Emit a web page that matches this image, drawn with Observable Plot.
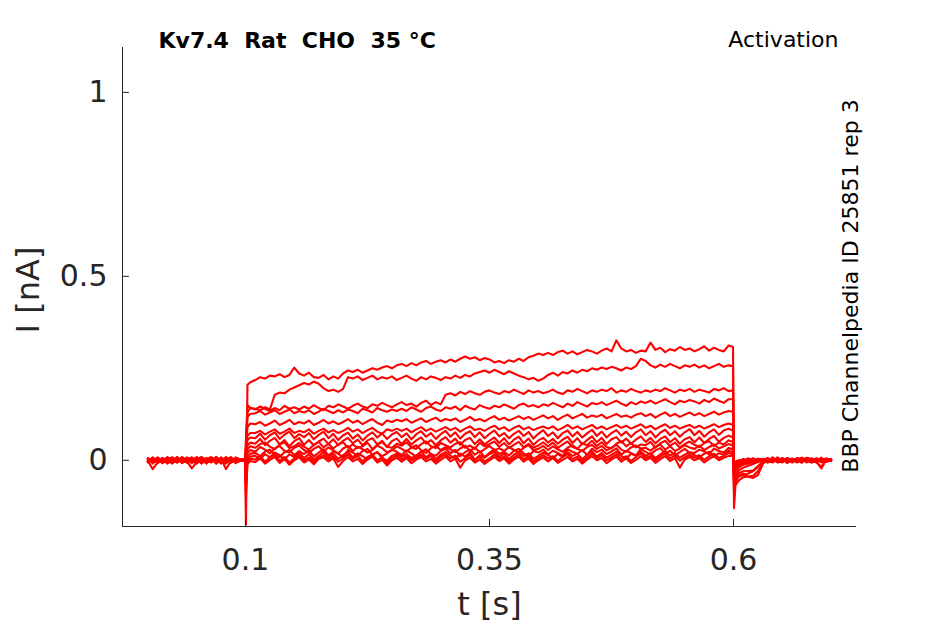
<!DOCTYPE html>
<html>
<head>
<meta charset="utf-8">
<script src="https://cdn.jsdelivr.net/npm/d3@7"></script>
<script src="https://cdn.jsdelivr.net/npm/@observablehq/plot@0.6"></script>
<style>
  body { margin: 0; background: #fff; }
  svg text { white-space: pre; }
</style>
</head>
<body>
<div id="chart"></div>
<script>
// sample times in ms
const timeMs = [
  0,5,10,15,20,25,30,35,40,45,50,55,60,65,70,75,80,85,90,95,
  99.5,100.5,102,105,
  110,115,120,125,130,135,140,145,150,155,
  160,165,170,175,180,185,190,195,200,205,
  210,215,220,225,230,235,240,245,250,255,
  260,265,270,275,280,285,290,295,300,305,
  310,315,320,325,330,335,340,345,350,355,
  360,365,370,375,380,385,390,395,400,405,
  410,415,420,425,430,435,440,445,450,455,
  460,465,470,475,480,485,490,495,500,505,
  510,515,520,525,530,535,540,545,550,555,
  560,565,570,575,580,585,590,595,
  599.5,600.5,602,605,
  610,615,620,625,630,635,640,645,650,655,660,665,670,675,680,685,690,695,700
];

// current traces in pA (one per voltage step)
const traceA = [6,-9,3,-5,9,-3,5,-8,2,7,-6,8,-2,5,-9,3,-3,9,-5,2, 2,-175,205,212,
  218,226,222,230,228,234,226,232,252,236,
  230,238,226,224,232,220,228,222,236,244,
  240,246,238,244,250,246,252,256,250,258,
  262,256,264,258,266,270,262,268,272,266,
  274,268,276,282,276,280,272,278,274,266,
  270,264,272,268,276,270,280,284,290,286,
  292,286,294,298,290,296,288,294,300,296,
  290,298,304,296,326,304,296,300,292,298,
  296,320,300,306,294,302,298,308,300,304,
  296,302,310,298,306,300,296,312,
  308,-130,-68,-56, -46,-44,-42,-30,-8,5,-6,8,-3,6,-5,3,-7,7,-2,5,-6,4,2];
const traceB = [-5,8,-2,6,-9,3,-3,9,-6,2,5,-8,3,-3,8,-6,2,6,-3,-2, -1,60,150,142,
  140,136,144,138,178,184,182,192,198,204,
  210,206,214,208,196,188,192,186,194,226,
  222,228,218,224,230,220,226,222,228,218,
  224,230,222,216,226,220,228,224,218,226,
  222,230,224,232,228,236,240,244,238,246,
  240,234,242,236,230,226,220,224,216,222,
  232,238,230,240,236,244,238,246,242,250,
  246,252,248,254,250,244,252,248,256,276,
  270,258,252,260,254,262,256,250,258,254,
  260,252,258,250,256,262,254,258,
  256,-60,-40,-28, -20,-15,-10,-5,2,-6,8,-3,5,-7,3,-2,6,-5,2,-3,7,-4,3];
const traceC = [3,-6,8,-3,5,-9,6,-2,-5,8,-3,5,-8,2,6,-5,9,-3,3,2, 1,40,130,142,
  138,146,140,134,142,136,148,140,144,138,
  146,140,150,142,136,148,144,152,146,140,
  148,154,146,142,152,148,156,150,144,152,
  158,150,154,146,156,162,150,158,152,178,
  182,176,186,180,188,182,178,186,190,184,
  180,188,184,192,186,180,190,184,188,182,
  186,192,184,180,190,186,194,188,182,190,
  186,192,188,196,184,190,186,194,188,184,
  190,186,192,188,196,190,184,192,188,194,
  186,192,188,184,194,190,196,188,
  190,-30,-22,-14, -8,-6,-4,-2,3,-5,6,-2,4,-7,2,-1,5,-6,3,-2,5,-3,1];
const traceD = [-3,5,-8,2,6,-5,9,-3,3,-6,8,-2,-5,6,-9,3,5,-6,2,0, 0,30,118,126,
  128,134,124,130,136,126,132,138,128,134,
  130,136,126,132,140,134,128,136,130,138,
  134,128,140,136,130,142,136,132,138,134,
  140,134,144,138,132,142,146,138,134,144,
  140,146,136,148,142,138,150,144,140,148,
  144,152,146,140,150,154,146,150,144,152,
  148,156,150,144,154,148,158,152,146,156,
  152,158,150,156,162,154,148,158,152,160,
  156,162,154,160,166,158,152,162,158,164,
  160,154,164,158,168,162,156,166,
  166,-25,-15,-8, -4,2,-5,3,-3,5,-2,6,-1,3,-6,2,-4,5,-6,3,-2,4,1];
const traceE = [5,-3,2,-8,3,8,-5,3,-2,-3,6,-9,5,2,-6,8,-3,3,-8,3, 2,20,90,100,
  98,104,94,100,108,96,102,110,98,104,
  100,108,96,102,110,100,106,98,104,112,
  102,108,98,106,112,102,96,108,104,110,
  106,112,102,108,114,104,110,116,106,112,
  108,114,104,110,118,108,112,106,114,120,
  110,116,108,114,120,112,118,110,116,122,
  114,120,110,118,124,114,120,126,116,122,
  118,124,114,120,126,118,122,116,124,128,
  120,126,116,124,130,120,126,118,124,130,
  122,128,120,126,132,124,130,134,
  132,-15,-10,-5, 2,-5,6,-3,4,-2,5,-6,1,-4,5,-2,7,-3,3,-5,2,-1,3];
const traceF = [-6,3,-2,5,-3,6,2,-5,5,-8,3,9,-6,2,-3,5,-9,6,-2,-2, -1,10,66,74,
  74,80,70,78,84,72,78,86,74,80,
  76,84,72,80,86,76,82,74,80,88,
  78,84,74,82,88,78,72,84,80,86,
  80,86,76,84,90,80,86,78,84,90,
  82,88,78,86,92,82,86,80,88,94,
  84,90,80,88,94,84,90,82,88,92,
  86,92,82,88,96,86,92,84,90,96,
  86,92,84,90,96,88,94,86,92,98,
  88,94,84,92,98,88,94,86,92,96,
  88,94,86,92,98,90,96,100,
  96,-10,-6,-2, 3,-4,2,-5,1,6,-3,2,-6,4,0,-3,5,4,-2,-6,-18,2,1];
const traceG = [2,-5,6,-3,0,5,-6,8,-2,3,-8,5,2,-5,9,-3,3,-6,5,2, 1,8,55,62,
  60,72,56,68,76,58,70,78,60,71,
  63,74,57,69,78,60,72,55,68,75,
  59,70,54,67,76,62,73,58,70,77,
  63,73,57,71,79,64,74,58,71,80,
  64,76,59,72,79,63,76,60,72,81,
  65,74,60,72,80,66,77,59,72,82,
  66,76,60,74,81,65,77,62,73,83,
  66,78,62,74,82,67,78,63,76,84,
  68,79,62,75,83,68,79,64,76,85,
  68,80,64,76,84,69,81,86,
  80,-8,-4,0, -2,5,-4,3,-6,2,-1,6,-4,4,-2,5,1,-5,3,-3,2,5,-2];
const traceH = [-3,6,-5,2,-8,3,5,-2,6,-3,8,-6,3,-2,5,-9,6,2,-5,0, 0,-20,40,48,
  45,58,41,53,61,43,55,38,52,60,
  42,55,40,51,59,44,57,41,53,61,
  46,56,41,54,60,43,53,36,52,59,
  44,58,43,54,62,45,55,41,54,63,
  48,59,42,55,61,44,57,43,53,62,
  47,60,43,56,64,46,59,42,54,61,
  48,58,45,56,64,47,60,43,55,65,
  49,61,44,57,63,48,59,45,56,65,
  50,61,46,58,65,49,60,45,57,63,
  49,62,47,58,66,50,61,67,
  62,-40,-30,-20, -12,-9,-6,-3,2,-5,4,-3,6,-1,3,-6,2,-4,5,1,-3,2,-2];
const traceI = [5,-2,3,-6,2,-3,8,-5,0,5,-9,3,6,-3,2,-5,-8,5,3,2, 1,-10,30,38,
  34,44,48,37,30,43,49,33,38,47,
  37,29,42,50,35,45,32,43,49,34,
  43,33,38,48,30,42,50,37,34,45,
  40,49,35,31,44,51,38,33,47,41,
  35,45,49,34,40,31,48,38,44,51,
  37,47,33,42,50,35,45,34,40,49,
  38,48,34,43,51,36,31,46,41,53,
  39,49,36,32,45,52,38,47,35,43,
  41,50,34,46,53,39,48,35,44,51,
  42,36,47,52,39,48,43,54,
  50,-50,-45,-35, -30,-29,-28,-16,-5,2,-4,5,-3,6,-2,3,-5,4,-6,1,2,-3,1];
const traceJ = [-2,3,-5,6,-3,2,-6,5,3,-2,8,-3,-6,5,2,-8,3,6,-5,0, 0,-30,20,28,
  23,36,29,19,32,39,25,21,34,40,
  28,20,31,38,24,35,27,18,32,39,
  25,37,30,21,28,40,33,22,27,38,
  31,23,35,41,27,20,33,39,28,36,
  30,22,32,40,25,35,21,30,39,27,
  33,25,36,28,22,34,41,27,31,39,
  28,38,30,23,34,41,31,25,36,42,
  31,39,27,34,42,29,23,35,40,32,
  34,26,37,43,29,38,25,32,41,35,
  31,40,28,36,43,32,38,44,
  40,-70,-52,-42, -36,-45,-48,-40,-10,3,-5,2,-3,6,1,-4,3,2,-6,4,-1,2,3];
const traceK = [3,-5,2,-2,5,-6,3,-3,8,0,-5,6,-9,3,-2,5,2,-6,8,2, 1,-45,10,18,
  20,11,24,29,15,9,22,28,14,25,
  17,27,10,21,30,13,24,18,8,28,
  21,12,25,31,15,22,11,19,29,23,
  14,27,19,10,23,30,17,12,25,31,
  19,28,11,22,29,15,25,9,20,30,
  17,23,13,26,31,19,11,25,21,29,
  16,26,20,12,30,23,17,28,14,32,
  22,29,17,24,32,15,26,20,12,31,
  23,16,27,33,18,26,13,22,31,20,
  20,29,24,16,32,25,21,33,
  30,-20,-10,-4, 2,-3,-1,4,3,-5,-4,2,5,2,-2,6,4,-3,-3,5,2,-4,-1];
const traceL = [-5,2,6,-3,3,-2,-5,3,-3,6,-8,5,2,-6,9,-3,-2,5,-5,-2, -1,-60,2,10,
  12,3,17,8,21,14,2,16,9,20,
  6,17,1,12,22,9,18,4,14,23,
  8,19,11,2,16,22,6,-1,12,18,
  9,17,6,13,24,8,18,3,15,22,
  13,4,18,10,21,1,14,7,17,23,
  9,18,3,15,23,11,19,4,12,21,
  14,6,17,9,22,12,18,3,15,25,
  10,20,7,15,23,12,4,18,13,24,
  12,19,6,16,25,13,20,7,15,22,
  14,8,18,23,11,19,15,26,
  22,-25,-12,-6, 0,4,3,-2,-2,5,1,-3,-3,2,2,-5,-1,4,5,-3,-2,3,0];
const traceM = [2,5,-3,3,-5,6,-2,2,-6,3,5,-8,3,9,-3,-6,5,-2,2,0, 0,-80,-5,4,
  2,11,-4,8,15,-1,9,-6,5,13,
  0,8,-5,6,14,3,11,-4,5,16,
  4,12,-3,9,16,0,8,-8,6,13,
  2,11,0,7,15,4,12,-4,9,16,
  5,13,-4,6,15,1,9,-3,5,16,
  4,10,-3,7,16,2,12,-4,6,14,
  5,11,-2,9,17,3,10,-3,7,18,
  6,14,0,8,16,3,11,-2,9,18,
  6,12,0,10,18,5,13,-1,8,15,
  7,14,1,11,18,6,12,20,
  16,-35,-20,-10, -4,-2,1,3,-1,-5,3,2,-2,4,0,-3,2,5,-1,-4,3,1,-2];
const traceN = [-2,-24,-6,5,-2,-8,3,-5,-3,-22,-5,6,-3,2,-6,5,-24,-3,2,0, 0,-100,-10,-2,
  -5,6,-9,1,9,-7,3,-12,0,8,
  -6,2,-11,4,8,-3,5,-18,-2,9,
  -3,4,-10,2,10,-6,1,-14,0,7,
  -4,6,-8,2,9,-3,4,-9,1,10,
  -3,4,-20,0,7,-6,2,-10,0,9,
  -2,5,-9,2,10,-4,5,-10,0,8,
  -3,6,-7,1,9,-3,4,-9,2,11,
  0,6,-8,2,10,-4,5,-7,1,11,
  0,7,-7,3,11,-2,6,-20,2,9,
  0,6,-6,4,11,0,7,12,
  12,-90,-60,-45, -40,-36,-30,-18,-4,3,2,-5,-3,4,1,-2,-2,6,3,-4,-22,2,0];

const traces = [traceA, traceB, traceC, traceD, traceE, traceF, traceG,
                traceH, traceI, traceJ, traceK, traceL, traceM, traceN];

const xTicks = [0.1, 0.35, 0.6];
const yTicks = [0, 0.5, 1];
const xDomain = [-0.026, 0.726];
const yDomain = [-0.18, 1.122];

const rows = traces.flatMap((vals, k) => {
  const n = Math.min(vals.length, timeMs.length);
  const out = [];
  for (let j = 0; j < n; j++) out.push({t: timeMs[j] / 1000, i: vals[j] / 1000, k});
  return out;
});

const ink = "#262626";
const font = "DejaVu Sans";
const W = 945, H = 624, mL = 122, mR = 89, mT = 47, mB = 98;
const tickLen = 7;

const chart = Plot.plot({
  width: W,
  height: H,
  marginLeft: mL,
  marginRight: mR,
  marginTop: mT,
  marginBottom: mB,
  style: {fontFamily: font, color: ink, background: "#fff", overflow: "visible"},
  x: {domain: xDomain},
  y: {domain: yDomain},
  marks: [
    Plot.line(rows, {x: "t", y: "i", z: "k", stroke: "#ff0000", strokeWidth: 2.1}),
    Plot.ruleX([xDomain[0]], {stroke: ink, strokeWidth: 1}),
    Plot.ruleY([yDomain[0]], {stroke: ink, strokeWidth: 1}),
    Plot.ruleX(xTicks, {x: d => d, stroke: ink, strokeWidth: 1, insetTop: H - mT - mB - tickLen}),
    Plot.ruleY(yTicks, {y: d => d, stroke: ink, strokeWidth: 1, insetRight: W - mL - mR - tickLen}),
    Plot.axisX({ticks: xTicks, tickSize: 0, tickPadding: 22, fontSize: 30, fill: ink, label: null, tickFormat: d => String(d)}),
    Plot.axisY({ticks: yTicks, tickSize: 0, tickPadding: 15, fontSize: 30, fill: ink, label: null, tickFormat: d => String(d)}),
    Plot.text(["t [s]"], {frameAnchor: "bottom", dy: 78, fontSize: 32, fill: ink, lineAnchor: "middle"}),
    Plot.text(["I [nA]"], {frameAnchor: "left", dx: -94, dy: 3, rotate: -90, fontSize: 32, fill: ink, lineAnchor: "middle", textAnchor: "middle"}),
    Plot.text(["Kv7.4  Rat  CHO  35 °C"], {frameAnchor: "top-left", dx: 36, dy: -7, fontSize: 22, fontWeight: "bold", fill: "#000", textAnchor: "start", lineAnchor: "middle"}),
    Plot.text(["Activation"], {frameAnchor: "top-right", dx: -18, dy: -8, fontSize: 22, fill: "#000", textAnchor: "end", lineAnchor: "middle"}),
    Plot.text(["BBP Channelpedia ID 25851 rep 3"], {frameAnchor: "right", dx: -6, dy: -1, rotate: -90, fontSize: 22, fill: "#000", textAnchor: "middle", lineAnchor: "middle"})
  ]
});

document.getElementById("chart").appendChild(chart);
</script>
</body>
</html>
